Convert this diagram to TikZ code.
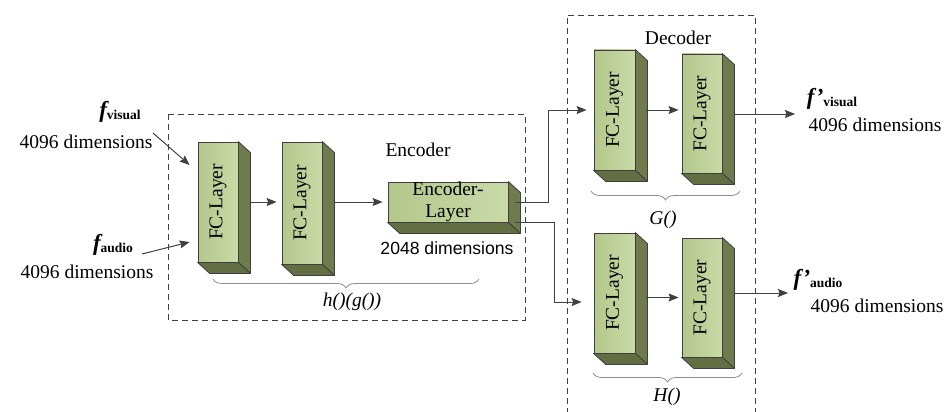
\documentclass[tikz,border=0pt]{standalone}
\usepackage{fontspec}
\setmainfont{Liberation Serif}
\setsansfont{Liberation Sans}
\usetikzlibrary{calc,arrows.meta,decorations.pathreplacing}
\definecolor{frontL}{HTML}{B4C78B}
\definecolor{frontR}{HTML}{CADAA8}
\definecolor{sidec}{HTML}{6F7B4C}
\definecolor{botc}{HTML}{636E42}
\definecolor{edgec}{HTML}{3F3F3F}
\definecolor{linec}{HTML}{404040}
\definecolor{bracec}{HTML}{8C8C8C}
\tikzset{
  slab/.style={draw=edgec, line width=0.8pt, left color=frontL, right color=frontR,
    inner sep=0pt, align=center, font=\fontsize{19.5}{23}\selectfont},
  face/.style={draw=edgec, line width=0.8pt, line join=round},
  conn/.style={draw=linec, line width=1pt, -{Stealth[length=10pt,width=8pt,inset=1.5pt]}},
  txt/.style={inner sep=0pt, font=\fontsize{19.5}{23}\selectfont},
  sanstxt/.style={inner sep=0pt, font=\sffamily\fontsize{17.6}{21}\selectfont},
  itxt/.style={inner sep=0pt, font=\itshape\fontsize{19.5}{23}\selectfont},
  dbox/.style={draw=linec, line width=0.9pt, dash pattern=on 6pt off 4pt},
  bracestyle/.style={draw=bracec, line width=0.8pt, decorate,
    decoration={brace, mirror, amplitude=9pt}},
}
\newcommand\fcslab[6]{%
  \node[slab, minimum width=#4pt, minimum height=#5pt] (#1) at (#2,#3) {#6};
  \filldraw[face, fill=sidec] (#1.north east) -- ++(12,11) -- ($(#1.south east)+(12,11)$) -- (#1.south east) -- cycle;
  \filldraw[face, fill=botc] (#1.south west) -- ++(12,11) -- ($(#1.south east)+(12,11)$) -- (#1.south east) -- cycle;
}
\newcommand\fsubsc[2]{{\fontsize{23}{23}\selectfont\bfseries\itshape #1}{\fontsize{13.5}{14}\selectfont\bfseries\raisebox{-0.35ex}{#2}}}
\newcommand\fclabel{\rotatebox{90}{FC-Layer}}
\begin{document}
\begin{tikzpicture}[x=1pt,y=-1pt]
\useasboundingbox (0,0) rectangle (950,412);

% dashed boxes
\draw[dbox] (168,114) rectangle (525,320);
\draw[dbox] (567,414) -- (567,15) -- (755,15) -- (755,414);

% encoder slabs
\fcslab{E1}{218}{202}{40}{120}{\fclabel}
\fcslab{E2}{302}{203}{40}{122}{\fclabel}
\fcslab{EL}{448}{202}{120}{40}{Encoder-\\[-1pt]Layer}

% decoder slabs
\fcslab{G1}{614.5}{110}{41}{120}{\fclabel}
\fcslab{G2}{702}{113.5}{40}{119}{\fclabel}
\fcslab{H1}{614.5}{293}{41}{120}{\fclabel}
\fcslab{H2}{702}{297.5}{40}{119}{\fclabel}

% texts
\node[txt] (enc) at (418,150) {Encoder};
\node[sanstxt] (d2048) at (447,248) {2048 dimensions};
\node[itxt] (hg) at (352,302) {h()(g())};
\node[txt] (dec) at (678,38) {Decoder};
\node[itxt] (Gf) at (663,220) {G()};
\node[itxt] (Hf) at (667,397) {H()};

\node[txt] (fv) at (120,112) {\fsubsc{f}{visual}};
\node[txt] (dv) at (86,142) {4096 dimensions};
\node[txt] (fa) at (113,245) {\fsubsc{f}{audio}};
\node[txt] (da) at (87,272) {4096 dimensions};

\node[txt] (fvo) at (832,99) {\fsubsc{f'}{visual}};
\node[txt] (dvo) at (875,125) {4096 dimensions};
\node[txt] (fao) at (818,280) {\fsubsc{f'}{audio}};
\node[txt] (dao) at (877,306) {4096 dimensions};

% braces
\draw[bracestyle] (213,279) -- (479,279);
\draw[bracestyle] (591,191) -- (740,191);
\draw[bracestyle] (593,373) -- (742,373);

% inputs
\coordinate (vi) at (153,133);
\coordinate (ai) at (142,254);
\draw[conn] (vi) -- ($(E1.west)+(-8,-37)$);
\draw[conn] (ai) -- ($(E1.west)+(-8,40)$);

% encoder chain
\draw[conn, shorten >=5pt] ($(E1.east)+(12,0)$) -- (E1.east -| E2.west);
\draw[conn, shorten >=5pt] ($(E2.east |- EL.west)+(12,0)$) -- (EL.west);

% to decoders
\draw[conn, shorten >=7pt] ($(EL.east)+(7,0)$) -- ++(33,0) |- (G1.west);
\draw[conn, shorten >=12pt] ($(EL.east)+(7,20)$) -- ++(39,0) |- ($(H1.west)+(0,9)$);

% decoder chains
\draw[conn, shorten >=3pt] ($(G1.east |- G1.east)+(11,0)$) -- (G1.east -| G2.west);
\draw[conn, shorten >=3pt] ($(H1.east |- H2.west)+(11,0)$) -- (H2.west);

% outputs
\coordinate (vo) at (795,114);
\coordinate (ao) at (788,293);
\draw[conn] ($(G2.east |- vo)+(12,0)$) -- (vo);
\draw[conn] ($(H2.east |- ao)+(12,0)$) -- (ao);
\end{tikzpicture}
\end{document}
